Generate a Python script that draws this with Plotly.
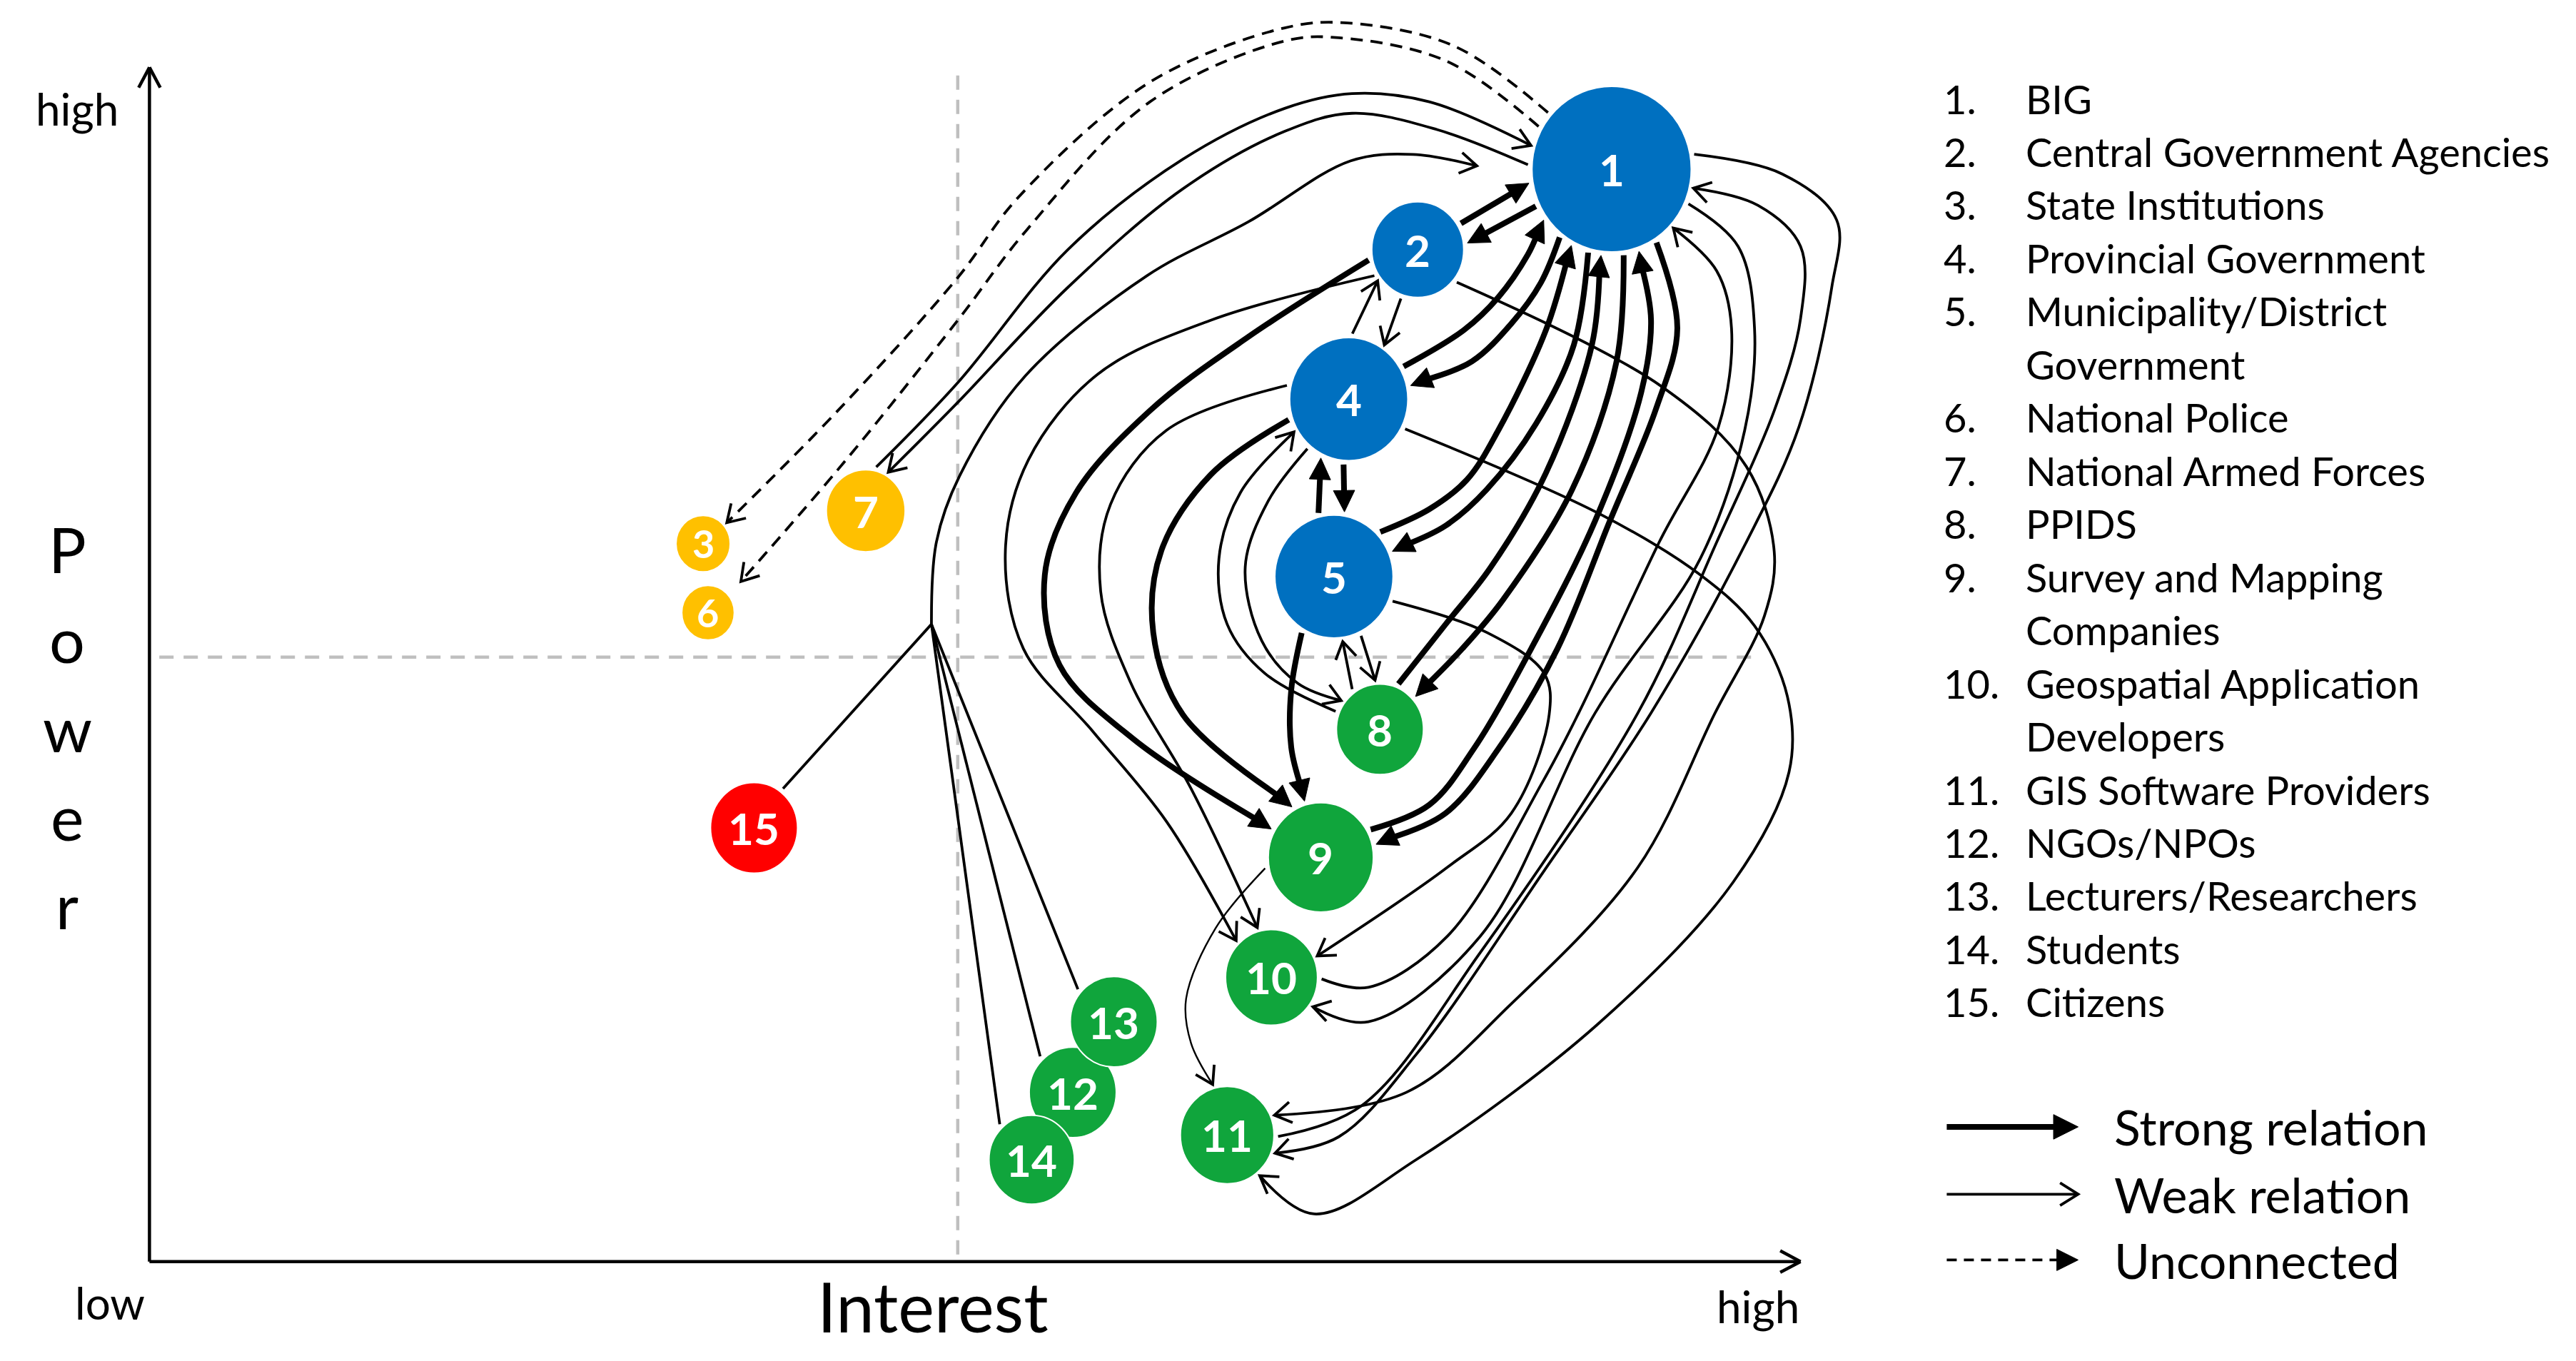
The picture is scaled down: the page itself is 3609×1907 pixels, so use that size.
import plotly.graph_objects as go
import numpy as np

# Stakeholders. x = interest, y = distance from the top of the frame (lower power further down)
node_ids = list(range(1, 16))
node_names = ["BIG", "Central Government Agencies", "State Institutions", "Provincial Government",
              "Municipality/District\nGovernment", "National Police", "National Armed Forces", "PPIDS",
              "Survey and Mapping\nCompanies", "Geospatial Application\nDevelopers", "GIS Software Providers",
              "NGOs/NPOs", "Lecturers/Researchers", "Students", "Citizens"]
node_x = [981, 863, 428, 821, 812, 431, 527, 840, 804, 774, 747, 653, 678, 628, 459]
node_y = [103, 152, 331, 243, 351, 373, 311, 444, 522, 595, 691, 665, 622, 706, 504]
node_r = [48.5, 28, 16.5, 36, 36, 16, 24, 26.5, 32, 28, 28.5, 26.5, 26.5, 26, 26.5]
node_group = ["core", "core", "outer", "core", "core", "outer", "outer", "user", "user",
              "user", "user", "user", "user", "user", "public"]
group_colors = {"core": "#0070C0", "outer": "#FFC000", "user": "#10A53C", "public": "#FF0000"}

# Relations (from, to, kind): S = strong, W = weak, U = unconnected, w = thin weak
relations = [
    (1, 3, "U"), (1, 6, "U"),
    (7, 1, "W"), (1, 7, "W"),
    (2, 1, "S"), (1, 2, "S"), (4, 1, "S"), (1, 4, "S"), (5, 1, "S"), (1, 5, "S"),
    (8, 1, "S"), (1, 8, "S"), (9, 1, "S"), (1, 9, "S"),
    (4, 5, "S"), (5, 4, "S"), (5, 9, "S"), (4, 9, "S"), (2, 9, "S"),
    (4, 2, "W"), (2, 4, "W"), (2, 10, "W"), (4, 10, "W"), (8, 4, "W"), (4, 8, "W"),
    (8, 5, "W"), (5, 8, "W"), (5, 10, "W"), (10, 1, "W"), (1, 10, "W"),
    (11, 1, "W"), (1, 11, "W"), (2, 11, "W"), (4, 11, "W"), (9, 11, "w"),
]
# hand-traced routes of the arrows (end points get snapped onto the circles)
routes = [
    [(936, 63), (885, 28), (820, 14), (782, 17), (700, 50), (620, 120), (583, 169), (510, 250), (446, 315)],
    [(928, 72), (880, 37), (815, 23), (782, 25), (700, 62), (625, 140), (583, 195), (515, 280), (451, 354)],
    [(533, 286), (583, 233), (650, 152), (720, 97), (782, 66), (823, 57), (870, 62), (930, 88)],
    [(924, 100), (875, 79), (823, 69), (782, 80), (720, 115), (650, 175), (583, 245), (541, 287)],
    [(886, 138), (928, 112)],
    [(934, 126), (893, 148)],
    [(858, 221), (891, 201), (912, 181), (930, 155), (937, 136)],
    [(946, 149), (938, 172), (920, 197), (896, 220), (862, 234)],
    [(838, 326), (870, 310), (893, 292), (912, 262), (941, 201), (952, 158)],
    [(965, 160), (958, 210), (935, 258), (905, 298), (880, 320), (849, 335)],
    [(853, 412), (880, 380), (907, 346), (941, 288), (969, 210), (974, 160)],
    [(989, 160), (984, 220), (957, 298), (915, 365), (890, 395), (866, 420)],
    [(838, 503), (870, 490), (897, 456), (932, 395), (971, 317), (999, 239), (1005, 195), (1000, 160)],
    [(1017, 162), (1021, 200), (1008, 249), (980, 317), (948, 395), (912, 456), (880, 495), (846, 512)],
    [(818, 281), (818, 314)],
    [(803, 314), (803, 281)],
    [(792, 386), (786, 420), (786, 455), (793, 484)],
    [(786, 255), (737, 289), (707, 335), (702, 385), (720, 435), (784, 487)],
    [(830, 159), (760, 205), (700, 250), (655, 300), (636, 350), (645, 405), (690, 450), (764, 499)],
    [(823, 207), (836, 173)],
    [(853, 181), (842, 211)],
    [(833, 170), (737, 195), (668, 228), (626, 280), (612, 335), (623, 395), (665, 445), (710, 500), (749, 569)],
    [(785, 235), (710, 262), (676, 307), (670, 360), (688, 415), (725, 480), (764, 560)],
    [(803, 429), (770, 410), (747, 380), (742, 340), (755, 300), (781, 267)],
    [(796, 273), (772, 305), (758, 345), (768, 390), (790, 416), (813, 424)],
    [(822, 418), (817, 388)],
    [(828, 386), (837, 414)],
    [(843, 364), (905, 385), (940, 410), (943, 435), (920, 495), (881, 528), (806, 580)],
    [(807, 596), (833, 601), (881, 570), (939, 476), (961, 434), (1010, 330), (1046, 260), (1054, 200),
     (1045, 165), (1025, 145)],
    [(1032, 126), (1058, 150), (1068, 200), (1062, 262), (1035, 340), (971, 434), (901, 570), (833, 622),
     (805, 617)],
    [(782, 692), (829, 673), (901, 580), (997, 434), (1045, 330), (1080, 250), (1096, 194), (1096, 150),
     (1070, 125), (1037, 116)],
    [(1031, 94), (1085, 106), (1118, 134), (1115, 175), (1095, 260), (1063, 330), (1005, 434), (940, 530),
     (862, 642), (815, 692), (784, 705)],
    [(887, 172), (1011, 235), (1063, 284), (1080, 336), (1074, 375), (1044, 434), (997, 528), (920, 611),
     (856, 665), (785, 675)],
    [(857, 262), (974, 313), (1035, 350), (1068, 381), (1088, 424), (1089, 470), (1055, 537), (972, 624),
     (862, 706), (800, 739), (767, 716)],
    [(763, 530), (740, 565), (722, 608), (725, 635), (737, 656)],
]
# citizens / NGOs / lecturers / students share one line to BIG
hub_members = [15, 13, 12, 14]
hub_starts = [(476, 481), (657, 603), (634, 644), (610, 686)]
hub_route = [(567, 380), (570, 330), (584, 290), (624, 229), (698, 168), (760, 135), (822, 98), (860, 94), (899, 101)]

legend_kinds = ["Strong relation", "Weak relation", "Unconnected"]

W_STRONG, W_WEAK, W_THIN = 8, 3.8, 2.4
PAGE_SHIFT = 3.5  # the html body margin, in diagram units


def rim(i, px, py, gap=2.5):
    cx, cy, r = node_x[i - 1], node_y[i - 1], node_r[i - 1]
    ry = r * 1.04
    dx, dy = px - cx, py - cy
    d = np.hypot(dx, dy)
    if d > 1.6 * r:
        return px, py
    ux, uy = dx / d, dy / d
    t = 1 / np.sqrt((ux / r) ** 2 + (uy / ry) ** 2) + gap
    return cx + t * ux, cy + t * uy


strong_heads_x, strong_heads_y = [], []
open_heads_x, open_heads_y = [], []


def add_head(tip, prev, kind, L=None):
    ex, ey = tip
    ux, uy = ex - prev[0], ey - prev[1]
    n = np.hypot(ux, uy)
    ux, uy = ux / n, uy / n
    if kind == "filled":
        L = L or 13
        H = L / 2
        bx, by = ex - L * ux, ey - L * uy
        strong_heads_x.extend([ex, bx - H * uy, bx + H * uy, ex, None])
        strong_heads_y.extend([ey, by + H * ux, by - H * ux, ey, None])
    else:
        L, a = L or 12, np.radians(32)
        pts = []
        for s in (1, -1):
            c, sn = np.cos(s * a), np.sin(s * a)
            rx, ry = -ux * c + uy * sn, -ux * sn - uy * c
            pts.append((ex + L * rx, ey + L * ry))
        open_heads_x.extend([pts[0][0], ex, pts[1][0], None])
        open_heads_y.extend([pts[0][1], ey, pts[1][1], None])
    return ux, uy


fig = go.Figure()

# quadrant guides
guide = dict(color="#BFBFBF", width=4.5, dash="20px,14px")
fig.add_trace(go.Scatter(x=[583, 583], y=[46, 768], mode="lines", line=guide, hoverinfo="skip"))
fig.add_trace(go.Scatter(x=[97, 1068], y=[400, 400], mode="lines", line=guide, hoverinfo="skip"))

# axes
fig.add_trace(go.Scatter(x=[91, 1096, None, 91, 91], y=[768, 768, None, 768, 41], mode="lines",
                         line=dict(color="black", width=4.5), hoverinfo="skip"))
axis_heads_x, axis_heads_y = [], []
for tip, d in [((1096, 768), (1, 0)), ((91, 41), (0, -1))]:
    for s in (1, -1):
        a = np.radians(28) * s
        rx = -d[0] * np.cos(a) + d[1] * np.sin(a)
        ry = -d[0] * np.sin(a) - d[1] * np.cos(a)
        axis_heads_x.extend([tip[0] + 14 * rx, tip[0], None])
        axis_heads_y.extend([tip[1] + 14 * ry, tip[1], None])
fig.add_trace(go.Scatter(x=axis_heads_x, y=axis_heads_y, mode="lines",
                         line=dict(color="black", width=4.5), hoverinfo="skip"))

# relations
for (s, t, kind), pts in zip(relations, routes):
    pts = [tuple(p) for p in pts]
    pts[0] = rim(s, *pts[0])
    pts[-1] = rim(t, *pts[-1])
    head = "filled" if kind == "S" else "open"
    ux, uy = add_head(pts[-1], pts[-2], head)
    if kind == "S":
        pts[-1] = (pts[-1][0] - 9 * ux, pts[-1][1] - 9 * uy)
    width = {"S": W_STRONG, "W": W_WEAK, "U": W_WEAK, "w": W_THIN}[kind]
    fig.add_trace(go.Scatter(
        x=[p[0] for p in pts], y=[p[1] for p in pts], mode="lines",
        line=dict(color="black", width=width, shape="spline", smoothing=1.0,
                  dash="17px,11px" if kind == "U" else "solid"),
        hoverinfo="skip"))

# shared line of the public / academic stakeholders
hub_x, hub_y = [], []
for m, st in zip(hub_members, hub_starts):
    p = rim(m, *st)
    hub_x.extend([p[0], hub_route[0][0], None])
    hub_y.extend([p[1], hub_route[0][1], None])
fig.add_trace(go.Scatter(x=hub_x, y=hub_y, mode="lines", line=dict(color="black", width=W_WEAK), hoverinfo="skip"))
add_head(hub_route[-1], hub_route[-2], "open")
fig.add_trace(go.Scatter(x=[p[0] for p in hub_route], y=[p[1] for p in hub_route], mode="lines",
                         line=dict(color="black", width=W_WEAK, shape="spline", smoothing=1.0), hoverinfo="skip"))

# relation legend
for k, (label, yy) in enumerate(zip(legend_kinds, [686, 727, 767])):
    kind = ["S", "W", "U"][k]
    head = "open" if kind == "W" else "filled"
    end = 1265 if kind == "W" else 1254
    add_head((1265, yy), (1185, yy), head, L=15 if kind == "S" else 13)
    fig.add_trace(go.Scatter(x=[1185, end], y=[yy, yy], mode="lines",
                             line=dict(color="black", width=W_STRONG if kind == "S" else W_WEAK,
                                       dash="14px,10px" if kind == "U" else "solid"),
                             hoverinfo="skip"))
    fig.add_annotation(x=1286, y=yy, text=label, showarrow=False, xanchor="left", yanchor="middle",
                       font=dict(size=68, color="black", family="Lato"))

fig.add_trace(go.Scatter(x=strong_heads_x, y=strong_heads_y, mode="lines", fill="toself",
                         fillcolor="black", line=dict(color="black", width=1), hoverinfo="skip"))
fig.add_trace(go.Scatter(x=open_heads_x, y=open_heads_y, mode="lines",
                         line=dict(color="black", width=W_WEAK), hoverinfo="skip"))

# stakeholder circles
for i, cx, cy, r, g in zip(node_ids, node_x, node_y, node_r, node_group):
    fig.add_shape(type="circle", xref="x", yref="y", x0=cx - r, x1=cx + r, y0=cy - r * 1.04, y1=cy + r * 1.04,
                  fillcolor=group_colors[g], line=dict(color="white", width=2), layer="above")
    fig.add_annotation(x=cx, y=cy, text=str(i), showarrow=False,
                       font=dict(size=54 if r < 20 else 62, color="white", family="Lato", weight="bold"))

# stakeholder list
row = 0
for i, name in zip(node_ids, node_names):
    yy = 60 + row * 32.35
    fig.add_annotation(x=1182, y=yy, text=f"{i}.", showarrow=False, xanchor="left", yanchor="middle",
                       font=dict(size=56, color="black", family="Lato"))
    for line in name.split("\n"):
        fig.add_annotation(x=1232, y=60 + row * 32.35, text=line, showarrow=False, xanchor="left",
                           yanchor="middle", font=dict(size=56, color="black", family="Lato"))
        row += 1

# axis texts
small = dict(size=62, color="black", family="Lato")
fig.add_annotation(x=47, y=66, text="high", showarrow=False, font=small)
fig.add_annotation(x=67, y=793, text="low", showarrow=False, font=small)
fig.add_annotation(x=1070, y=795, text="high", showarrow=False, font=small)
fig.add_annotation(x=568, y=795, text="Interest", showarrow=False, font=dict(size=96, color="black", family="Lato"))
for ch, yy in zip("Power", [334, 389, 443, 497, 551]):
    fig.add_annotation(x=41, y=yy, text=ch, showarrow=False, font=dict(size=88, color="black", family="Lato"))

fig.update_layout(
    width=3609, height=1907, margin=dict(l=0, r=0, t=0, b=0),
    paper_bgcolor="white", plot_bgcolor="white", showlegend=False,
    xaxis=dict(range=[PAGE_SHIFT, 1568 + PAGE_SHIFT], visible=False, fixedrange=True),
    yaxis=dict(range=[828.5 + PAGE_SHIFT, PAGE_SHIFT], visible=False, fixedrange=True),
)

fig.write_html("out.html")
